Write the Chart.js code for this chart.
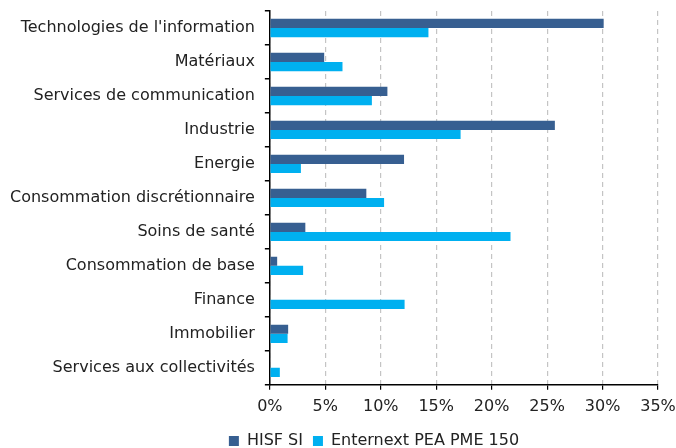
<!DOCTYPE html>
<html>
<head>
    <meta charset="utf-8">
    <script src="https://cdn.jsdelivr.net/npm/chart.js@4.4.0/dist/chart.umd.min.js"></script>
    <style>
        body { margin: 0; padding: 0; background: #fff; }
        .chart-container { width: 676px; height: 448px; }
    </style>
</head>
<body>
    <div class="chart-container">
        <canvas id="sectorChart"></canvas>
    </div>

    <script>
        const categories = [
            "Technologies de l'information",
            "Matériaux",
            "Services de communication",
            "Industrie",
            "Energie",
            "Consommation discrétionnaire",
            "Soins de santé",
            "Consommation de base",
            "Finance",
            "Immobilier",
            "Services aux collectivités"
        ];
        const hisfValues = [30.1, 4.9, 10.6, 25.7, 12.1, 8.7, 3.2, 0.66, 0, 1.65, 0];
        const enternextValues = [14.3, 6.55, 9.2, 17.2, 2.8, 10.3, 21.7, 3.0, 12.15, 1.6, 0.9];
        const seriesNames = ['HISF SI', 'Enternext PEA PME 150'];
        const xTicks = [0, 5, 10, 15, 20, 25, 30, 35];

        Chart.defaults.font.family = '"DejaVu Sans", Verdana, sans-serif';
        Chart.defaults.font.size = 16;
        Chart.defaults.color = '#222';

        // legend in the original sits a bit right of the page centre
        const legendShift = {
            id: 'legendShift',
            afterLayout(chart) {
                chart.legend.left += 36;
                chart.legend.right += 36;
            }
        };

        new Chart(document.getElementById('sectorChart'), {
            type: 'bar',
            data: {
                labels: categories,
                datasets: [{
                    label: seriesNames[0],
                    data: hisfValues,
                    backgroundColor: '#375F91',
                    categoryPercentage: 0.54,
                    barPercentage: 1
                }, {
                    label: seriesNames[1],
                    data: enternextValues,
                    backgroundColor: '#00B0F0',
                    categoryPercentage: 0.54,
                    barPercentage: 1
                }]
            },
            plugins: [legendShift],
            options: {
                indexAxis: 'y',
                responsive: true,
                maintainAspectRatio: false,
                animation: false,
                layout: { padding: { top: 11, right: 0, left: 0, bottom: -11 } },
                plugins: {
                    legend: {
                        position: 'bottom',
                        labels: {
                            boxWidth: 10,
                            boxHeight: 10,
                            padding: 10,
                            color: '#222'
                        }
                    },
                    tooltip: { enabled: false }
                },
                scales: {
                    x: {
                        min: 0,
                        max: 35,
                        afterBuildTicks: axis => { axis.ticks = xTicks.map(v => ({ value: v })); },
                        afterFit: axis => { axis.paddingLeft = 0; axis.paddingRight = 18; },
                        ticks: {
                            callback: v => v + '%',
                            padding: 7,
                            color: '#222'
                        },
                        grid: {
                            color: '#c4c4c4',
                            tickColor: '#000',
                            tickLength: 5,
                            lineWidth: 1.2
                        },
                        border: { display: true, color: '#000', width: 1.5, dash: [5, 4] }
                    },
                    y: {
                        afterFit: axis => { axis.paddingTop = 0; axis.paddingBottom = 0; },
                        ticks: { padding: 10, color: '#222' },
                        grid: {
                            offset: true,
                            drawOnChartArea: false,
                            tickColor: '#000',
                            tickLength: 5,
                            lineWidth: 1.5
                        },
                        border: { display: true, color: '#000', width: 1.5 }
                    }
                }
            }
        });
    </script>
</body>
</html>
